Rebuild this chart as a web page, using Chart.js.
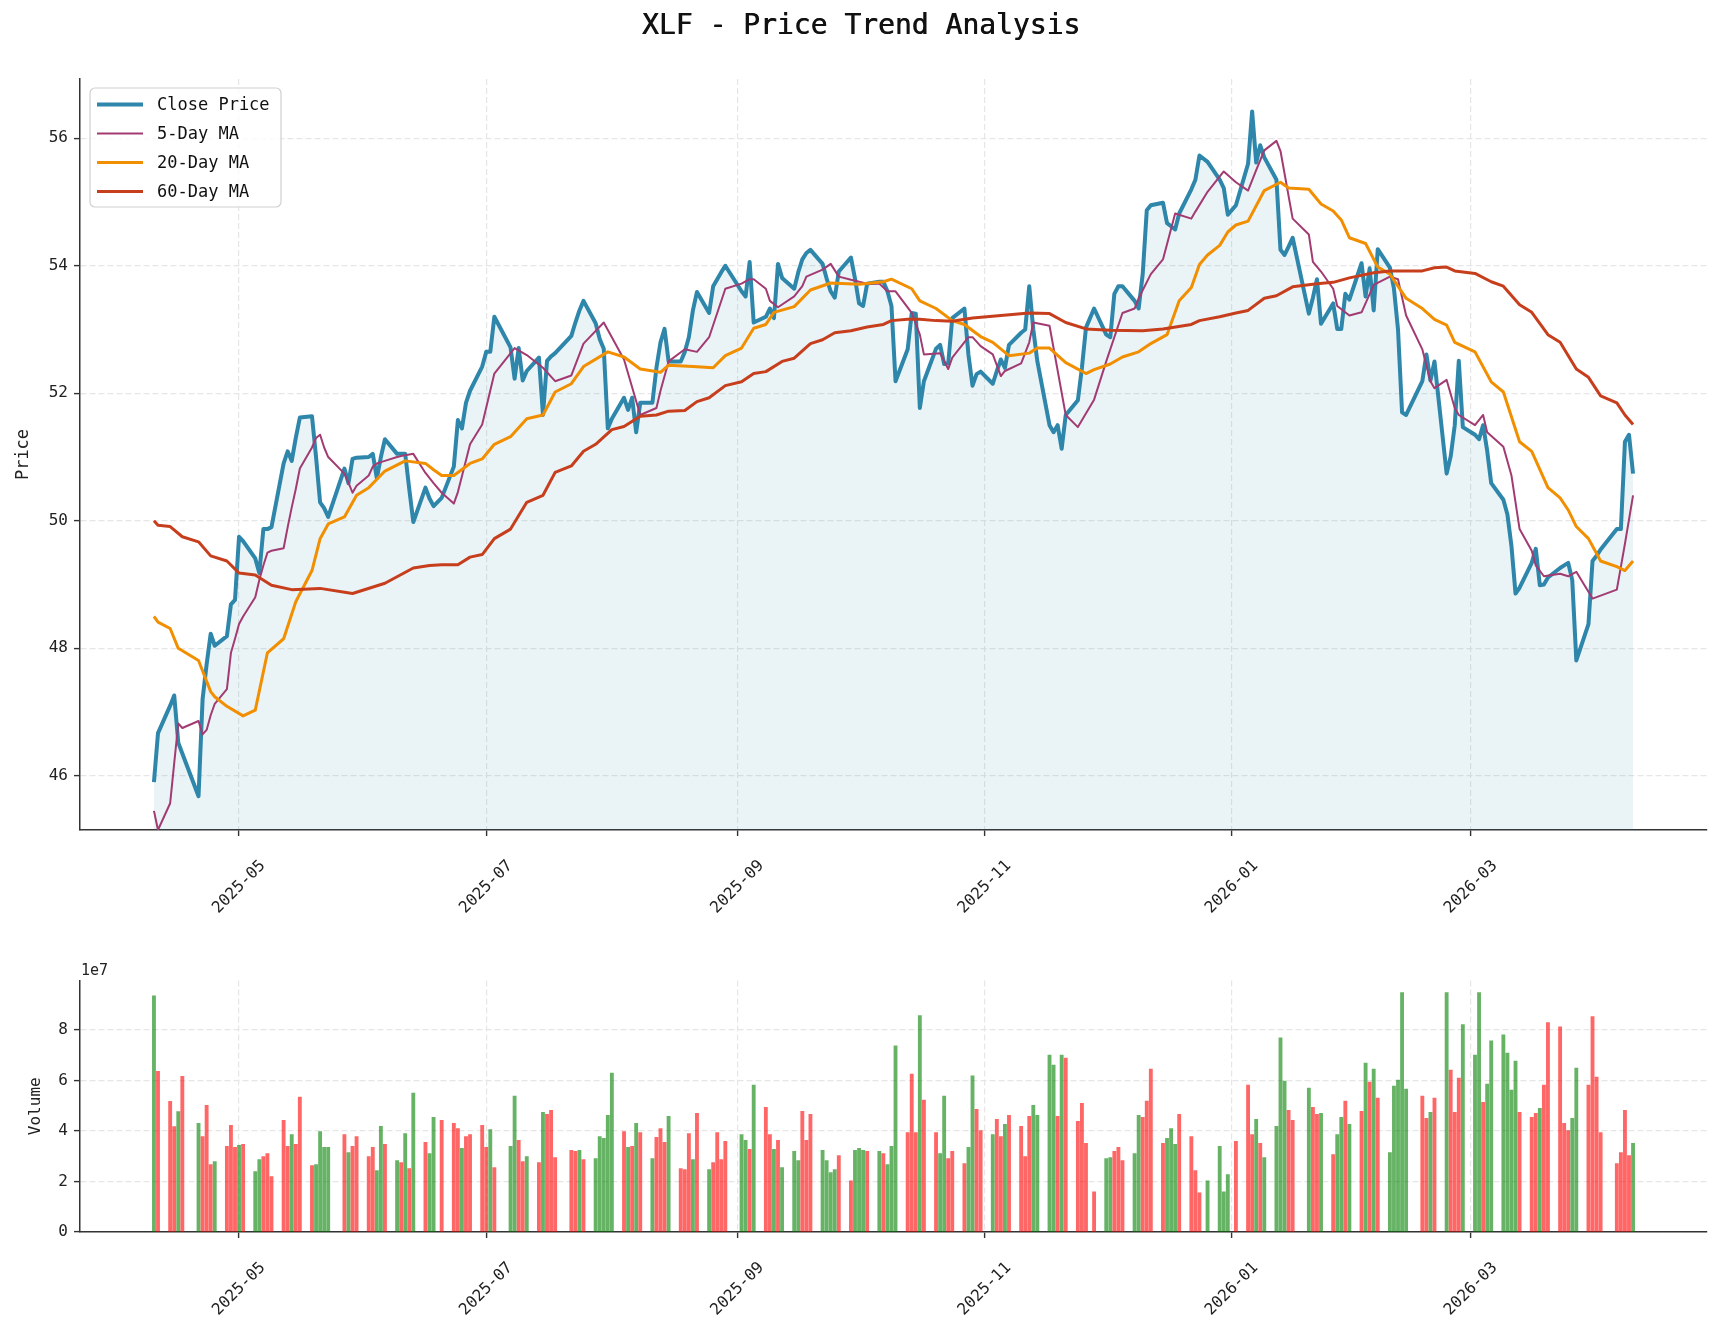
<!DOCTYPE html>
<html>
<head>
<meta charset="utf-8">
<title>XLF - Price Trend Analysis</title>
<script src="https://cdn.jsdelivr.net/npm/chart.js@4.4.1/dist/chart.umd.min.js"></script>
<style>
  html, body { margin: 0; padding: 0; background: #fff; }
  #wrap { position: relative; width: 1722px; height: 1327px; }
  canvas { position: absolute; left: 0; }
  #priceChart { top: 0; }
  #volumeChart { top: 960px; }
</style>
</head>
<body>
<div id="wrap">
  <canvas id="priceChart" width="1722" height="960"></canvas>
  <canvas id="volumeChart" width="1722" height="367"></canvas>
</div>
<script>
// trading calendar: weekdays from first to last day, minus the days with no bar
const firstDay = '2025-04-10';
const lastDay = '2026-04-10';
const closedDays = ['2025-04-18', '2025-05-26', '2025-06-19', '2025-07-04', '2025-07-21', '2025-09-01',
  '2025-11-27', '2025-12-25', '2026-01-01', '2026-01-19', '2026-02-16', '2026-04-03'];

// close price, one per trading day
const closePrice = [
  45.90, 46.67, 47.10, 47.26, 46.52, 46.35, 45.68, 47.20, 47.75, 48.23, 48.04, 48.19, 48.69, 48.76,
  49.75, 49.68, 49.41, 49.18, 49.87, 49.87, 49.90, 50.90, 51.09, 50.94, 51.30, 51.62, 51.64, 51.00, 50.29, 50.20, 50.06, 50.82, 50.59, 50.97, 50.99,
  51.00, 51.05, 50.67, 51.00, 51.28, 51.05, 51.05, 51.05, 50.50, 49.98, 50.52, 50.35, 50.23, 50.36, 50.85, 51.58, 51.45, 51.85, 52.04, 52.42,
  52.65, 52.65, 53.20, 52.72, 52.23, 52.71, 52.20, 52.35, 52.56, 51.66, 52.51, 52.58, 52.63, 52.90, 53.11, 53.30, 53.45, 53.10, 52.85, 52.70, 51.45,
  51.60, 51.93, 51.74, 51.93, 51.39, 51.85, 51.85, 52.40, 52.80, 53.01, 52.50, 52.50, 52.65, 52.88, 53.30, 53.59, 53.26, 53.68, 53.79, 53.90, 54.00,
  53.60, 53.52, 54.06, 53.11, 53.20, 53.33, 53.18, 54.03, 53.81, 53.64, 53.90, 54.10, 54.20, 54.25, 54.03, 53.80, 53.60, 53.50, 53.91, 54.13, 53.80,
  53.41, 53.37, 53.72, 53.75, 53.75, 53.60, 53.37, 52.19, 52.69, 53.26, 53.25, 51.77, 52.19, 52.70, 52.76, 52.46, 52.47, 53.18, 53.33, 52.60, 52.12, 52.30, 52.34,
  52.15, 52.35, 52.53, 52.40, 52.76, 52.95, 53.00, 53.68, 53.00, 52.50, 51.50, 51.39, 51.50, 51.13, 51.66, 51.89, 52.40, 53.03, 53.33,
  52.92, 52.88, 53.56, 53.68, 53.68, 53.45, 53.33, 53.87, 54.87, 54.95, 54.99, 54.67, 54.62, 54.57, 54.82, 55.20, 55.35, 55.73, 55.63, 55.35, 55.22, 54.80,
  54.95, 55.60, 56.42, 55.62, 55.89, 55.70, 55.35, 54.25, 54.17, 54.30, 54.44, 53.25, 53.50, 53.79, 53.09, 53.41, 53.01, 53.01, 53.56, 53.47,
  54.04, 53.52, 53.96, 53.30, 54.26, 53.97, 53.64, 53.00, 51.70, 51.66, 52.19, 52.61, 52.20, 52.50, 50.74, 51.01, 51.50, 52.51, 51.47,
  51.35, 51.28, 51.50, 51.10, 50.59, 50.33, 50.10, 49.60, 48.86, 48.95, 49.34, 49.56, 48.99, 49.00, 49.11, 49.26, 49.30, 49.34, 49.07, 47.81, 48.38, 49.37,
  49.45, 49.55, 49.87, 49.87, 51.24, 51.35, 50.74
];

// volume in units of 1e7, one per trading day
const volumeE7 = [
  9.35, 6.36, 5.17, 4.17, 4.77, 6.16, 4.30, 3.78, 5.02, 2.67, 2.79, 3.39, 4.22, 3.35,
  3.43, 3.47, 2.39, 2.87, 2.99, 3.11, 2.19, 4.42, 3.39, 3.86, 3.47, 5.34, 2.63, 2.67, 3.98, 3.35, 3.35, 3.86, 3.15, 3.39, 3.78,
  2.99, 3.35, 2.43, 4.18, 3.47, 2.83, 2.75, 3.90, 2.51, 5.50, 3.55, 3.11, 4.54, 4.42, 4.30, 4.10, 3.31, 3.78, 3.86, 4.22,
  3.35, 4.06, 2.55, 3.39, 5.38, 3.63, 2.79, 2.99, 2.75, 4.74, 4.66, 4.82, 2.95, 3.23, 3.19, 3.23, 2.87, 2.91, 3.78, 3.71, 4.62,
  6.29, 3.98, 3.35, 3.39, 4.30, 3.94, 2.91, 3.75, 4.10, 3.55, 4.58, 2.51, 2.47, 3.90, 2.87, 4.70, 2.47, 2.75, 3.94, 2.87, 3.59,
  3.86, 3.63, 3.27, 5.82, 4.94, 3.86, 3.27, 3.63, 2.55, 3.19, 2.83, 4.78, 3.63, 4.66, 3.23, 2.83, 2.35, 2.47, 3.03, 2.03, 3.23,
  3.31, 3.23, 3.19, 3.19, 3.11, 2.67, 3.39, 7.37, 3.94, 6.25, 3.94, 8.57, 5.22, 3.94, 3.11, 5.38, 2.91, 3.19, 2.71, 3.35, 6.18, 4.86, 4.02,
  3.86, 4.46, 3.78, 4.26, 4.62, 4.18, 2.99, 4.58, 5.02, 4.62, 7.01, 6.61, 4.58, 7.01, 6.89, 4.38, 5.10, 3.51, 1.59,
  2.91, 2.95, 3.19, 3.35, 2.83, 3.11, 4.62, 4.54, 5.18, 6.45, 3.51, 3.71, 4.10, 3.47, 4.66, 3.78, 2.43, 1.55, 2.03, 3.39, 1.59, 2.27,
  3.59, 5.82, 3.86, 4.46, 3.51, 2.95, 4.18, 7.69, 5.98, 4.82, 4.42, 5.70, 4.94, 4.66, 4.70, 3.07, 3.86, 4.54, 5.18, 4.26,
  4.78, 6.69, 5.94, 6.45, 5.30, 3.15, 5.78, 6.02, 9.48, 5.66, 5.38, 4.50, 4.74, 5.30, 9.48, 6.41, 4.74, 6.10, 8.21,
  7.01, 9.48, 5.14, 5.86, 7.57, 7.81, 7.09, 5.62, 6.77, 4.74, 4.54, 4.70, 4.90, 5.82, 8.29, 8.13, 4.30, 4.02, 4.50, 6.49, 5.82, 8.53,
  6.14, 3.94, 2.71, 3.15, 4.82, 3.03, 3.51
];

// 1 = up day (green bar), 0 = down day (red bar)
const volumeUp = [
  1,0,0,0,1,0,1,0,0,0,1,0,0,0,
  1,0,1,1,0,0,0,0,0,1,0,0,0,1,1,1,1,0,1,0,0,
  0,0,1,1,0,1,0,1,0,1,0,1,1,0,0,0,1,0,0,0,
  0,1,0,1,1,0,0,1,0,1,0,0,0,0,0,1,0,1,1,1,1,
  1,0,1,0,1,0,1,0,0,0,1,0,0,0,1,0,1,0,0,0,0,
  1,1,0,1,0,0,1,0,1,1,1,0,0,0,1,1,1,1,0,0,1,
  1,1,0,1,0,1,1,1,0,0,0,1,0,0,1,1,0,0,0,1,1,0,0,
  1,0,0,1,0,0,0,0,1,1,1,1,0,1,0,0,0,0,0,
  1,1,0,0,0,1,1,0,0,0,0,1,1,1,0,0,0,0,1,1,1,1,
  0,0,0,1,0,1,1,1,1,0,0,1,0,0,1,0,1,1,0,1,
  0,1,0,1,0,1,1,1,1,1,0,0,1,0,1,0,0,0,1,
  1,1,0,1,1,1,1,1,1,0,0,0,1,0,0,0,0,0,1,1,0,0,
  0,0,0,0,0,0,1
];

// moving averages: [date, value]
const ma5 = [
  ['2025-04-10',45.45],['2025-04-11',45.15],['2025-04-14',45.57],['2025-04-15',46.20],['2025-04-16',46.82],['2025-04-17',46.75],
  ['2025-04-21',46.86],['2025-04-22',46.65],['2025-04-23',46.72],['2025-04-24',46.95],['2025-04-25',47.13],['2025-04-28',47.36],
  ['2025-04-29',47.93],['2025-04-30',48.15],['2025-05-01',48.38],['2025-05-02',48.50],['2025-05-05',48.80],['2025-05-06',49.07],
  ['2025-05-07',49.30],['2025-05-08',49.50],['2025-05-09',49.53],['2025-05-12',49.57],['2025-05-13',49.90],['2025-05-14',50.21],
  ['2025-05-15',50.50],['2025-05-16',50.82],['2025-05-19',51.15],['2025-05-20',51.30],['2025-05-21',51.35],['2025-05-22',51.15],
  ['2025-05-23',51.00],['2025-05-27',50.74],['2025-05-28',50.60],['2025-05-29',50.44],['2025-05-30',50.55],['2025-06-02',50.71],
  ['2025-06-03',50.85],['2025-06-04',50.90],['2025-06-05',50.92],['2025-06-06',50.94],['2025-06-09',51.00],['2025-06-11',51.03],
  ['2025-06-13',51.05],['2025-06-16',50.75],['2025-06-18',50.59],['2025-06-20',50.44],['2025-06-23',50.27],['2025-06-24',50.45],
  ['2025-06-25',50.70],['2025-06-27',51.20],['2025-06-30',51.51],['2025-07-03',52.31],['2025-07-08',52.71],['2025-07-11',52.60],
  ['2025-07-15',52.40],['2025-07-18',52.19],['2025-07-22',52.28],['2025-07-25',52.78],['2025-07-30',53.11],['2025-08-04',52.53],
  ['2025-08-08',51.66],['2025-08-12',51.77],['2025-08-13',52.04],['2025-08-15',52.50],['2025-08-19',52.69],['2025-08-22',52.65],
  ['2025-08-25',52.88],['2025-08-29',53.64],['2025-09-02',53.72],['2025-09-04',53.79],['2025-09-05',53.79],['2025-09-08',53.64],
  ['2025-09-09',53.45],['2025-09-11',53.35],['2025-09-15',53.52],['2025-09-17',53.68],['2025-09-18',53.83],['2025-09-22',53.94],
  ['2025-09-24',54.03],['2025-09-26',53.83],['2025-09-29',53.78],['2025-10-03',53.72],['2025-10-06',53.72],['2025-10-08',53.60],
  ['2025-10-10',53.60],['2025-10-14',53.26],['2025-10-16',52.92],['2025-10-17',52.61],['2025-10-21',52.63],['2025-10-23',52.38],
  ['2025-10-24',52.56],['2025-10-28',52.88],['2025-10-29',52.88],['2025-10-31',52.74],['2025-11-03',52.61],['2025-11-05',52.27],
  ['2025-11-06',52.35],['2025-11-10',52.47],['2025-11-12',52.80],['2025-11-13',53.11],['2025-11-17',53.06],['2025-11-21',51.66],
  ['2025-11-24',51.47],['2025-11-28',51.90],['2025-12-01',52.50],['2025-12-05',53.26],['2025-12-08',53.33],['2025-12-09',53.49],
  ['2025-12-12',53.87],['2025-12-15',54.10],['2025-12-18',54.82],['2025-12-22',54.74],['2025-12-23',54.85],['2025-12-26',55.16],
  ['2025-12-30',55.48],['2026-01-02',55.31],['2026-01-05',55.18],['2026-01-07',55.50],['2026-01-09',55.81],['2026-01-12',55.96],
  ['2026-01-13',55.80],['2026-01-16',54.74],['2026-01-20',54.49],['2026-01-21',54.06],['2026-01-23',53.91],['2026-01-26',53.64],
  ['2026-01-27',53.37],['2026-01-30',53.22],['2026-02-02',53.27],['2026-02-05',53.70],['2026-02-09',53.83],['2026-02-11',53.79],
  ['2026-02-13',53.22],['2026-02-17',52.69],['2026-02-19',52.19],['2026-02-20',52.08],['2026-02-23',52.21],['2026-02-25',51.77],
  ['2026-02-26',51.66],['2026-03-02',51.50],['2026-03-04',51.66],['2026-03-05',51.39],['2026-03-09',51.16],['2026-03-11',50.71],
  ['2026-03-13',49.87],['2026-03-16',49.53],['2026-03-17',49.30],['2026-03-19',49.13],['2026-03-23',49.17],['2026-03-25',49.13],
  ['2026-03-27',49.20],['2026-03-31',48.78],['2026-04-06',48.92],['2026-04-08',49.64],['2026-04-10',50.40]
];

const ma20 = [
  ['2025-04-10',48.50],['2025-04-11',48.41],['2025-04-14',48.31],['2025-04-16',48.00],['2025-04-21',47.81],['2025-04-24',47.32],
  ['2025-04-25',47.24],['2025-04-28',47.09],['2025-05-02',46.94],['2025-05-05',47.03],['2025-05-08',47.93],['2025-05-12',48.15],
  ['2025-05-15',48.73],['2025-05-19',49.22],['2025-05-21',49.72],['2025-05-23',49.95],['2025-05-27',50.06],['2025-05-30',50.40],
  ['2025-06-02',50.52],['2025-06-06',50.78],['2025-06-11',50.94],['2025-06-16',50.90],['2025-06-18',50.80],['2025-06-20',50.71],
  ['2025-06-23',50.71],['2025-06-27',50.90],['2025-06-30',50.97],['2025-07-03',51.20],['2025-07-07',51.32],['2025-07-11',51.60],
  ['2025-07-15',51.66],['2025-07-18',52.02],['2025-07-22',52.15],['2025-07-25',52.42],['2025-07-31',52.65],['2025-08-04',52.57],
  ['2025-08-08',52.38],['2025-08-13',52.33],['2025-08-15',52.44],['2025-08-21',52.42],['2025-08-26',52.40],['2025-08-29',52.59],
  ['2025-09-02',52.71],['2025-09-05',53.02],['2025-09-08',53.08],['2025-09-10',53.27],['2025-09-15',53.36],['2025-09-19',53.62],
  ['2025-09-24',53.73],['2025-10-01',53.71],['2025-10-07',53.75],['2025-10-09',53.79],['2025-10-14',53.64],['2025-10-16',53.45],
  ['2025-10-20',53.33],['2025-10-24',53.14],['2025-10-27',53.08],['2025-10-31',52.89],['2025-11-03',52.80],['2025-11-07',52.59],
  ['2025-11-12',52.63],['2025-11-14',52.71],['2025-11-17',52.71],['2025-11-21',52.48],['2025-11-26',52.31],['2025-11-28',52.37],
  ['2025-12-02',52.46],['2025-12-05',52.57],['2025-12-09',52.65],['2025-12-12',52.78],['2025-12-16',52.92],['2025-12-19',53.45],
  ['2025-12-22',53.66],['2025-12-24',54.02],['2025-12-26',54.17],['2025-12-29',54.32],['2025-12-31',54.53],['2026-01-02',54.64],
  ['2026-01-05',54.70],['2026-01-09',55.18],['2026-01-13',55.31],['2026-01-15',55.22],['2026-01-20',55.20],['2026-01-23',54.97],
  ['2026-01-26',54.86],['2026-01-28',54.72],['2026-01-30',54.44],['2026-02-03',54.35],['2026-02-06',53.98],['2026-02-09',53.87],
  ['2026-02-13',53.49],['2026-02-17',53.33],['2026-02-20',53.16],['2026-02-23',53.07],['2026-02-25',52.80],['2026-03-02',52.65],
  ['2026-03-06',52.18],['2026-03-09',52.02],['2026-03-13',51.24],['2026-03-16',51.09],['2026-03-20',50.52],['2026-03-23',50.36],
  ['2026-03-25',50.17],['2026-03-27',49.91],['2026-03-30',49.72],['2026-04-02',49.37],['2026-04-06',49.28],['2026-04-08',49.22],
  ['2026-04-10',49.37]
];

const ma60 = [
  ['2025-04-10',50.00],['2025-04-11',49.93],['2025-04-14',49.91],['2025-04-17',49.75],['2025-04-21',49.67],['2025-04-24',49.45],
  ['2025-04-28',49.37],['2025-05-01',49.18],['2025-05-05',49.15],['2025-05-09',48.99],['2025-05-14',48.92],['2025-05-21',48.94],
  ['2025-05-29',48.86],['2025-06-06',49.02],['2025-06-13',49.26],['2025-06-17',49.30],['2025-06-20',49.31],['2025-06-24',49.31],
  ['2025-06-27',49.43],['2025-06-30',49.47],['2025-07-03',49.72],['2025-07-07',49.87],['2025-07-11',50.29],['2025-07-15',50.40],
  ['2025-07-18',50.76],['2025-07-22',50.86],['2025-07-25',51.09],['2025-07-28',51.20],['2025-08-01',51.43],['2025-08-04',51.48],
  ['2025-08-08',51.64],['2025-08-12',51.66],['2025-08-15',51.72],['2025-08-19',51.73],['2025-08-22',51.87],['2025-08-25',51.93],
  ['2025-08-29',52.12],['2025-09-02',52.18],['2025-09-05',52.31],['2025-09-08',52.34],['2025-09-12',52.50],['2025-09-15',52.55],
  ['2025-09-19',52.78],['2025-09-22',52.84],['2025-09-25',52.95],['2025-09-29',52.98],['2025-10-03',53.04],['2025-10-07',53.08],
  ['2025-10-09',53.14],['2025-10-13',53.16],['2025-10-16',53.16],['2025-10-20',53.14],['2025-10-24',53.13],['2025-10-29',53.18],
  ['2025-11-05',53.22],['2025-11-12',53.26],['2025-11-17',53.25],['2025-11-21',53.11],['2025-11-26',53.01],['2025-12-02',52.99],
  ['2025-12-10',52.98],['2025-12-15',53.01],['2025-12-22',53.08],['2025-12-24',53.14],['2025-12-29',53.20],['2026-01-02',53.26],
  ['2026-01-05',53.30],['2026-01-09',53.49],['2026-01-12',53.53],['2026-01-16',53.67],['2026-01-22',53.72],['2026-01-26',53.74],
  ['2026-01-30',53.81],['2026-02-05',53.89],['2026-02-09',53.92],['2026-02-13',53.92],['2026-02-17',53.92],['2026-02-20',53.97],
  ['2026-02-23',53.98],['2026-02-25',53.92],['2026-03-02',53.88],['2026-03-06',53.75],['2026-03-09',53.68],['2026-03-13',53.39],
  ['2026-03-16',53.27],['2026-03-20',52.92],['2026-03-23',52.80],['2026-03-27',52.38],['2026-03-30',52.25],['2026-04-02',51.96],
  ['2026-04-06',51.85],['2026-04-08',51.66],['2026-04-10',51.51]
];

const monthTicks = ['2025-05-01', '2025-07-01', '2025-09-01', '2025-11-01', '2026-01-01', '2026-03-01'];
const priceTicks = [46, 48, 50, 52, 54, 56];
const volumeTicks = [0, 2, 4, 6, 8];

const fontFamily = '"DejaVu Sans Mono", "Liberation Mono", monospace';
const gridColor = '#e6e6e6';
const axisColor = '#333333';

Chart.defaults.font.family = fontFamily;
Chart.defaults.color = '#222';

const dayNum = s => (Date.parse(s) - Date.parse(firstDay)) / 864e5;

const dates = [];
for (let t = Date.parse(firstDay); t <= Date.parse(lastDay); t += 864e5) {
  const d = new Date(t);
  const s = d.toISOString().slice(0, 10);
  const wd = d.getUTCDay();
  if (wd !== 0 && wd !== 6 && !closedDays.includes(s)) dates.push(s);
}
if (dates.length !== closePrice.length || dates.length !== volumeE7.length) {
  console.warn('length mismatch', dates.length, closePrice.length, volumeE7.length, volumeUp.length);
}

const xMin = -18.25, xMax = 383.25;
const toXY = arr => arr.map(([d, v]) => ({ x: dayNum(d), y: v }));

function xAxis(height) {
  return {
    type: 'linear', min: xMin, max: xMax, offset: false,
    afterBuildTicks: s => { s.ticks = monthTicks.map(m => ({ value: dayNum(m) })); },
    afterFit: s => { s.height = height; },
    ticks: { display: false },
    grid: { offset: false, color: gridColor, lineWidth: 1.2, drawTicks: true, tickLength: 6, tickColor: axisColor, tickWidth: 1.4 },
    border: { display: true, color: axisColor, width: 1.5, dash: [6, 3] }
  };
}

function yAxis(min, max, ticks) {
  return {
    type: 'linear', min: min, max: max,
    afterBuildTicks: s => { s.ticks = ticks.map(v => ({ value: v })); },
    afterFit: s => { s.width = 80; },
    ticks: { font: { size: 16 }, color: '#222', padding: 6 },
    grid: { offset: false, color: gridColor, lineWidth: 1.2, drawTicks: true, tickLength: 6, tickColor: axisColor, tickWidth: 1.4 },
    border: { display: true, color: axisColor, width: 1.5, dash: [6, 3] }
  };
}

function drawXLabels(chart, offset) {
  const { ctx, chartArea } = chart;
  const xs = chart.scales.x;
  ctx.save();
  ctx.font = '16px ' + fontFamily;
  ctx.fillStyle = '#222';
  ctx.textAlign = 'center';
  ctx.textBaseline = 'middle';
  xs.ticks.forEach((t, i) => {
    ctx.save();
    ctx.translate(xs.getPixelForValue(t.value), chartArea.bottom + offset);
    ctx.rotate(-Math.PI / 4);
    ctx.fillText(monthTicks[i].slice(0, 7), 0, 0);
    ctx.restore();
  });
  ctx.restore();
}

function drawYLabel(chart, text, x, y, size) {
  const ctx = chart.ctx;
  ctx.save();
  ctx.font = size + 'px ' + fontFamily;
  ctx.fillStyle = '#222';
  ctx.textAlign = 'center';
  ctx.textBaseline = 'middle';
  ctx.translate(x, y);
  ctx.rotate(-Math.PI / 2);
  ctx.fillText(text, 0, 0);
  ctx.restore();
}

const priceDecor = {
  id: 'priceDecor',
  afterDraw(chart) {
    const { ctx, chartArea } = chart;
    // title
    ctx.save();
    ctx.font = '28px ' + fontFamily;
    ctx.fillStyle = '#111';
    ctx.textAlign = 'center';
    ctx.textBaseline = 'middle';
    ctx.fillText('XLF - Price Trend Analysis', 861, 27);
    ctx.fillText('XLF - Price Trend Analysis', 861.6, 27);
    ctx.restore();

    drawYLabel(chart, 'Price', 24, (chartArea.top + chartArea.bottom) / 2, 17);
    drawXLabels(chart, 57);

    // legend box, upper left
    const bx = 90, by = 88, bw = 191, bh = 119;
    ctx.save();
    ctx.beginPath();
    ctx.roundRect(bx, by, bw, bh, 5);
    ctx.fillStyle = 'rgba(255,255,255,0.8)';
    ctx.fill();
    ctx.strokeStyle = '#d0d0d0';
    ctx.lineWidth = 1.2;
    ctx.stroke();
    ctx.font = '17px ' + fontFamily;
    ctx.textBaseline = 'middle';
    ctx.textAlign = 'left';
    chart.data.datasets.forEach((ds, i) => {
      const ry = 104.5 + i * 29;
      ctx.beginPath();
      ctx.moveTo(97, ry);
      ctx.lineTo(143, ry);
      ctx.strokeStyle = ds.borderColor;
      ctx.lineWidth = ds.borderWidth;
      ctx.stroke();
      ctx.fillStyle = '#111';
      ctx.fillText(ds.label, 157, ry + 1);
    });
    ctx.restore();
  }
};

const volumeDecor = {
  id: 'volumeDecor',
  afterDraw(chart) {
    const { ctx, chartArea } = chart;
    drawYLabel(chart, 'Volume', 36, (chartArea.top + chartArea.bottom) / 2, 16);
    drawXLabels(chart, 57);
    ctx.save();
    ctx.font = '15px ' + fontFamily;
    ctx.fillStyle = '#222';
    ctx.textAlign = 'left';
    ctx.textBaseline = 'alphabetic';
    ctx.fillText('1e7', chartArea.left + 1, chartArea.top - 6);
    ctx.restore();
  }
};

new Chart(document.getElementById('priceChart'), {
  type: 'line',
  data: {
    datasets: [
      {
        label: 'Close Price',
        data: dates.map((d, i) => ({ x: dayNum(d), y: closePrice[i] })),
        borderColor: '#2E86AB', borderWidth: 4,
        fill: 'start', backgroundColor: 'rgba(46,134,171,0.1)',
        pointRadius: 0, tension: 0, borderJoinStyle: 'round', order: 4
      },
      {
        label: '5-Day MA', data: toXY(ma5),
        borderColor: '#A23B72', borderWidth: 2, fill: false,
        pointRadius: 0, tension: 0, borderJoinStyle: 'round', order: 3
      },
      {
        label: '20-Day MA', data: toXY(ma20),
        borderColor: '#F18F01', borderWidth: 3, fill: false,
        pointRadius: 0, tension: 0, borderJoinStyle: 'round', order: 2
      },
      {
        label: '60-Day MA', data: toXY(ma60),
        borderColor: '#C73E1D', borderWidth: 3, fill: false,
        pointRadius: 0, tension: 0, borderJoinStyle: 'round', order: 1
      }
    ]
  },
  options: {
    responsive: false, animation: false, devicePixelRatio: 1,
    layout: { padding: { left: 0, right: 15, top: 79, bottom: 0 } },
    plugins: { legend: { display: false }, tooltip: { enabled: false }, title: { display: false } },
    scales: { x: xAxis(130), y: yAxis(45.15, 56.93, priceTicks) }
  },
  plugins: [priceDecor]
});

new Chart(document.getElementById('volumeChart'), {
  type: 'bar',
  data: {
    datasets: [{
      label: 'Volume',
      data: dates.map((d, i) => ({ x: dayNum(d), y: volumeE7[i] })),
      backgroundColor: volumeUp.map(u => u ? 'rgba(0,128,0,0.6)' : 'rgba(255,0,0,0.6)'),
      barThickness: 3.2, borderWidth: 0
    }]
  },
  options: {
    responsive: false, animation: false, devicePixelRatio: 1,
    layout: { padding: { left: 0, right: 15, top: 20.5, bottom: 0 } },
    plugins: { legend: { display: false }, tooltip: { enabled: false } },
    scales: { x: xAxis(95), y: yAxis(0, 9.96, volumeTicks) }
  },
  plugins: [volumeDecor]
});
</script>
</body>
</html>
